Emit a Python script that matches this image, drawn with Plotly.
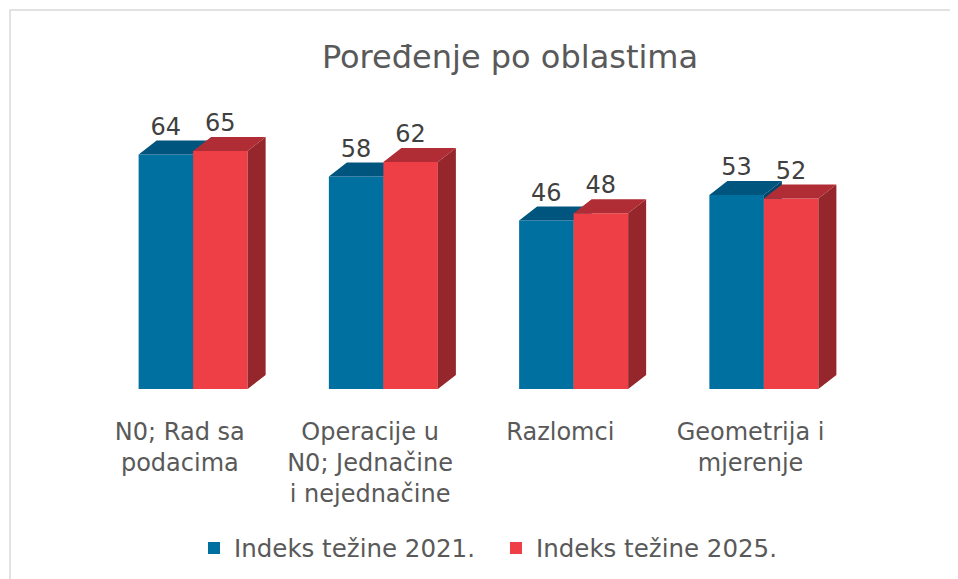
import plotly.graph_objects as go

# ---- data ----
categories = ["N0; Rad sa<br>podacima",
              "Operacije u<br>N0; Jednačine<br>i nejednačine",
              "Razlomci",
              "Geometrija i<br>mjerenje"]
series_names = ["Indeks težine 2021.", "Indeks težine 2025."]
values_2021 = [64, 58, 46, 53]
values_2025 = [65, 62, 48, 52]

# ---- style ----
FONT = "DejaVu Sans"
TXT = "#595959"
front_colors = ["#0070A0", "#EE3F47"]
top_colors = ["#00557E", "#B02D35"]
side_colors = ["#00466A", "#95262C"]

W = 0.2865          # bar width (category units)
DX = 0.0946         # 3-D depth offset in x (category units)
DY = 3.82           # 3-D depth offset in y (value units)
YMAX = 80

# page has 8px body margin -> figure coords = screen - 8
ML, MT, PW, PH = 90, 88, 761, 293
MR = 958 - ML - PW
MB = 579 - MT - PH

xs = list(range(len(categories)))
fig = go.Figure()

def add_series(vals, offset, k, xa, ya):
    fig.add_trace(go.Bar(
        x=xs, y=vals, width=W, offset=offset, name=series_names[k],
        marker=dict(color=front_colors[k], line=dict(width=0)),
        xaxis=xa, yaxis=ya, hoverinfo="skip"))
    sx, sy, tx, ty = [], [], [], []
    for i, v in zip(xs, vals):
        xl = i + offset
        xr = xl + W
        sx += [xr, xr + DX, xr + DX, xr, xr, None]
        sy += [0, DY, v + DY, v, 0, None]
        tx += [xl, xr, xr + DX, xl + DX, xl, None]
        ty += [v, v, v + DY, v + DY, v, None]
    fig.add_trace(go.Scatter(x=sx, y=sy, fill="toself", mode="lines",
                             line=dict(width=0), fillcolor=side_colors[k],
                             showlegend=False, hoverinfo="skip",
                             xaxis=xa, yaxis=ya))
    fig.add_trace(go.Scatter(x=tx, y=ty, fill="toself", mode="lines",
                             line=dict(width=0), fillcolor=top_colors[k],
                             showlegend=False, hoverinfo="skip",
                             xaxis=xa, yaxis=ya))

add_series(values_2021, -W, 0, "x", "y")
add_series(values_2025, 0.0, 1, "x2", "y2")

# data labels
for k, (vals, offset) in enumerate([(values_2021, -W), (values_2025, 0.0)]):
    fig.add_trace(go.Scatter(
        x=[i + offset + W / 2 for i in xs], y=[v + DY for v in vals],
        mode="text", text=[str(v) for v in vals], textposition="top center",
        textfont=dict(family=FONT, size=24, color="#404040"),
        showlegend=False, hoverinfo="skip", cliponaxis=False,
        xaxis="x2", yaxis="y2"))

axis_common = dict(range=[-0.5, 3.5], showgrid=False, zeroline=False,
                   showline=False, fixedrange=True)
fig.update_layout(
    width=958, height=579,
    margin=dict(l=ML, r=MR, t=MT, b=MB, autoexpand=False),
    paper_bgcolor="white", plot_bgcolor="rgba(0,0,0,0)",
    barmode="overlay",
    title=dict(text="Poređenje po oblastima", x=502 / 958, xref="container",
               y=1 - 49 / 579, yref="container", xanchor="center",
               yanchor="middle",
               font=dict(family=FONT, size=32, color=TXT)),
    xaxis=dict(**axis_common,
               tickmode="array", tickvals=[i - 0.07 for i in xs],
               ticktext=categories, ticks="outside", ticklen=21,
               tickcolor="rgba(0,0,0,0)",
               tickfont=dict(family=FONT, size=24, color=TXT)),
    xaxis2=dict(**axis_common, overlaying="x", matches="x",
                showticklabels=False),
    yaxis=dict(range=[0, YMAX], showgrid=False, zeroline=False,
               showline=False, showticklabels=False, fixedrange=True),
    yaxis2=dict(range=[0, YMAX], showgrid=False, zeroline=False,
                showline=False, showticklabels=False, fixedrange=True,
                overlaying="y", matches="y"),
    legend=dict(orientation="h", x=(186 - ML) / PW, xanchor="left",
                y=(381 - 540) / PH, yanchor="middle",
                entrywidth=257, entrywidthmode="pixels",
                font=dict(family=FONT, size=24.5, color=TXT),
                bgcolor="rgba(0,0,0,0)"),
    showlegend=True,
)

# chart frame (light grey border)
fig.add_shape(type="rect", xref="paper", yref="paper",
              x0=(2 - ML) / PW, x1=1.3, y0=-1.0, y1=(381 - 2) / PH,
              line=dict(color="#D9D9D9", width=1.5), fillcolor="rgba(0,0,0,0)",
              layer="below")

fig.write_html("out.html")
